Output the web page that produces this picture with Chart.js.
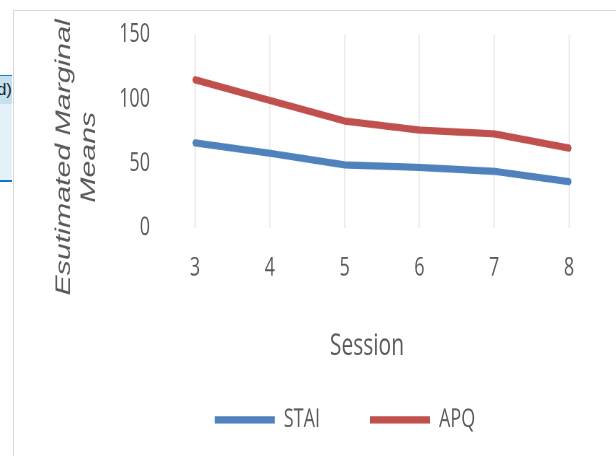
<!DOCTYPE html>
<html>
<head>
<meta charset="utf-8">
<script src="https://cdn.jsdelivr.net/npm/chart.js@4.4.1/dist/chart.umd.min.js"></script>
<style>
    html, body { margin: 0; padding: 0; background: #fff; }
    body { width: 616px; height: 456px; position: relative; overflow: hidden; }
    /* whole chart is stretched vertically, like the source picture */
    .wrap { position: absolute; left: 0; top: 0; width: 616px; height: 316px;
            transform: scaleY(1.443); transform-origin: 0 0; }
    .frame-v { position: absolute; left: 13px; top: 10px; width: 1px; height: 446px; background: #d9d9d9; }
    .frame-h { position: absolute; left: 13px; top: 10px; width: 603px; height: 1px; background: #d9d9d9; }
    .side { position: absolute; left: 0; top: 75px; width: 12px; height: 104px; overflow: hidden;
            background: #e5f1f9; border-top: 1px solid #1b80c4; border-bottom: 2px solid #0a7cc1; }
    .side .head { position: absolute; left: 0; top: 0; width: 12px; height: 28px; background: #c4e0f1; }
    .side span { position: absolute; right: 0; top: 4px; font: 17px "Liberation Sans", Arial, sans-serif; color: #222; white-space: nowrap; }
</style>
</head>
<body>
<div class="side"><div class="head"></div><span>(d)</span></div>
<div class="frame-v"></div>
<div class="frame-h"></div>
<div class="wrap"><canvas id="chart"></canvas></div>
<script>
// Data
const sessions = ['3', '4', '5', '6', '7', '8'];
const staiValues = [66, 58, 49, 47, 44, 36];
const apqValues = [115, 99, 83, 76, 73, 62];
const yTicks = [0, 50, 100, 150];

const textColor = '#595959';
const tickFont = { family: '"Open Sans", "Noto Sans", sans-serif', size: 18 };

// Axis titles drawn by hand so they sit where the original has them
const axisTitles = {
    id: 'axisTitles',
    afterDraw(chart) {
        const ctx = chart.ctx;
        ctx.save();
        ctx.fillStyle = textColor;
        ctx.textAlign = 'center';
        ctx.textBaseline = 'middle';

        ctx.font = 'italic 21px "Liberation Sans", Arial, sans-serif';
        ctx.translate(64, 109);
        ctx.rotate(-Math.PI / 2);
        ctx.fillText('Esutimated Marginal', 0, 0);
        ctx.fillText('Means', 0, 25);
        ctx.restore();

        ctx.save();
        ctx.fillStyle = textColor;
        ctx.textAlign = 'center';
        ctx.textBaseline = 'middle';
        ctx.font = '21px "Open Sans", "Noto Sans", sans-serif';
        ctx.fillText('Session', 367, 240);
        ctx.restore();
    }
};

const ctx = document.getElementById('chart').getContext('2d');

new Chart(ctx, {
    type: 'line',
    data: {
        labels: sessions,
        datasets: [{
            label: 'STAI',
            data: staiValues,
            borderColor: '#4f81bd',
            backgroundColor: '#4f81bd',
            borderWidth: 5,
            borderCapStyle: 'round',
            borderJoinStyle: 'round',
            pointRadius: 0,
            tension: 0
        }, {
            label: 'APQ',
            data: apqValues,
            borderColor: '#c0504d',
            backgroundColor: '#c0504d',
            borderWidth: 5,
            borderCapStyle: 'round',
            borderJoinStyle: 'round',
            pointRadius: 0,
            tension: 0
        }]
    },
    options: {
        responsive: true,
        maintainAspectRatio: false,
        devicePixelRatio: 2,
        animation: false,
        layout: {
            padding: { left: 121, right: 47, top: 24, bottom: 6 }
        },
        plugins: {
            legend: {
                position: 'bottom',
                labels: {
                    usePointStyle: true,
                    pointStyle: 'line',
                    pointStyleWidth: 60,
                    padding: 50,
                    color: textColor,
                    font: tickFont
                }
            },
            tooltip: { enabled: false }
        },
        scales: {
            x: {
                offset: false,
                grid: {
                    display: true,
                    color: '#ececec',
                    lineWidth: 1.5,
                    drawTicks: true,
                    tickLength: 17,
                    tickColor: 'rgba(0,0,0,0)'
                },
                border: { display: false },
                ticks: {
                    color: textColor,
                    font: tickFont,
                    padding: 0,
                    maxRotation: 0
                },
                afterFit(scale) {
                    scale.height = 74;
                }
            },
            y: {
                min: 0,
                max: 150,
                afterBuildTicks(scale) {
                    scale.ticks = yTicks.map(v => ({ value: v }));
                },
                // tick length instead of label padding, so the top edge is not pushed down
                grid: { display: false, drawTicks: true, tickLength: 45 },
                border: { display: false },
                ticks: {
                    color: textColor,
                    font: tickFont,
                    padding: 0
                },
                afterFit(scale) {
                    scale.width = 74;
                }
            }
        }
    },
    plugins: [axisTitles]
});
</script>
</body>
</html>
